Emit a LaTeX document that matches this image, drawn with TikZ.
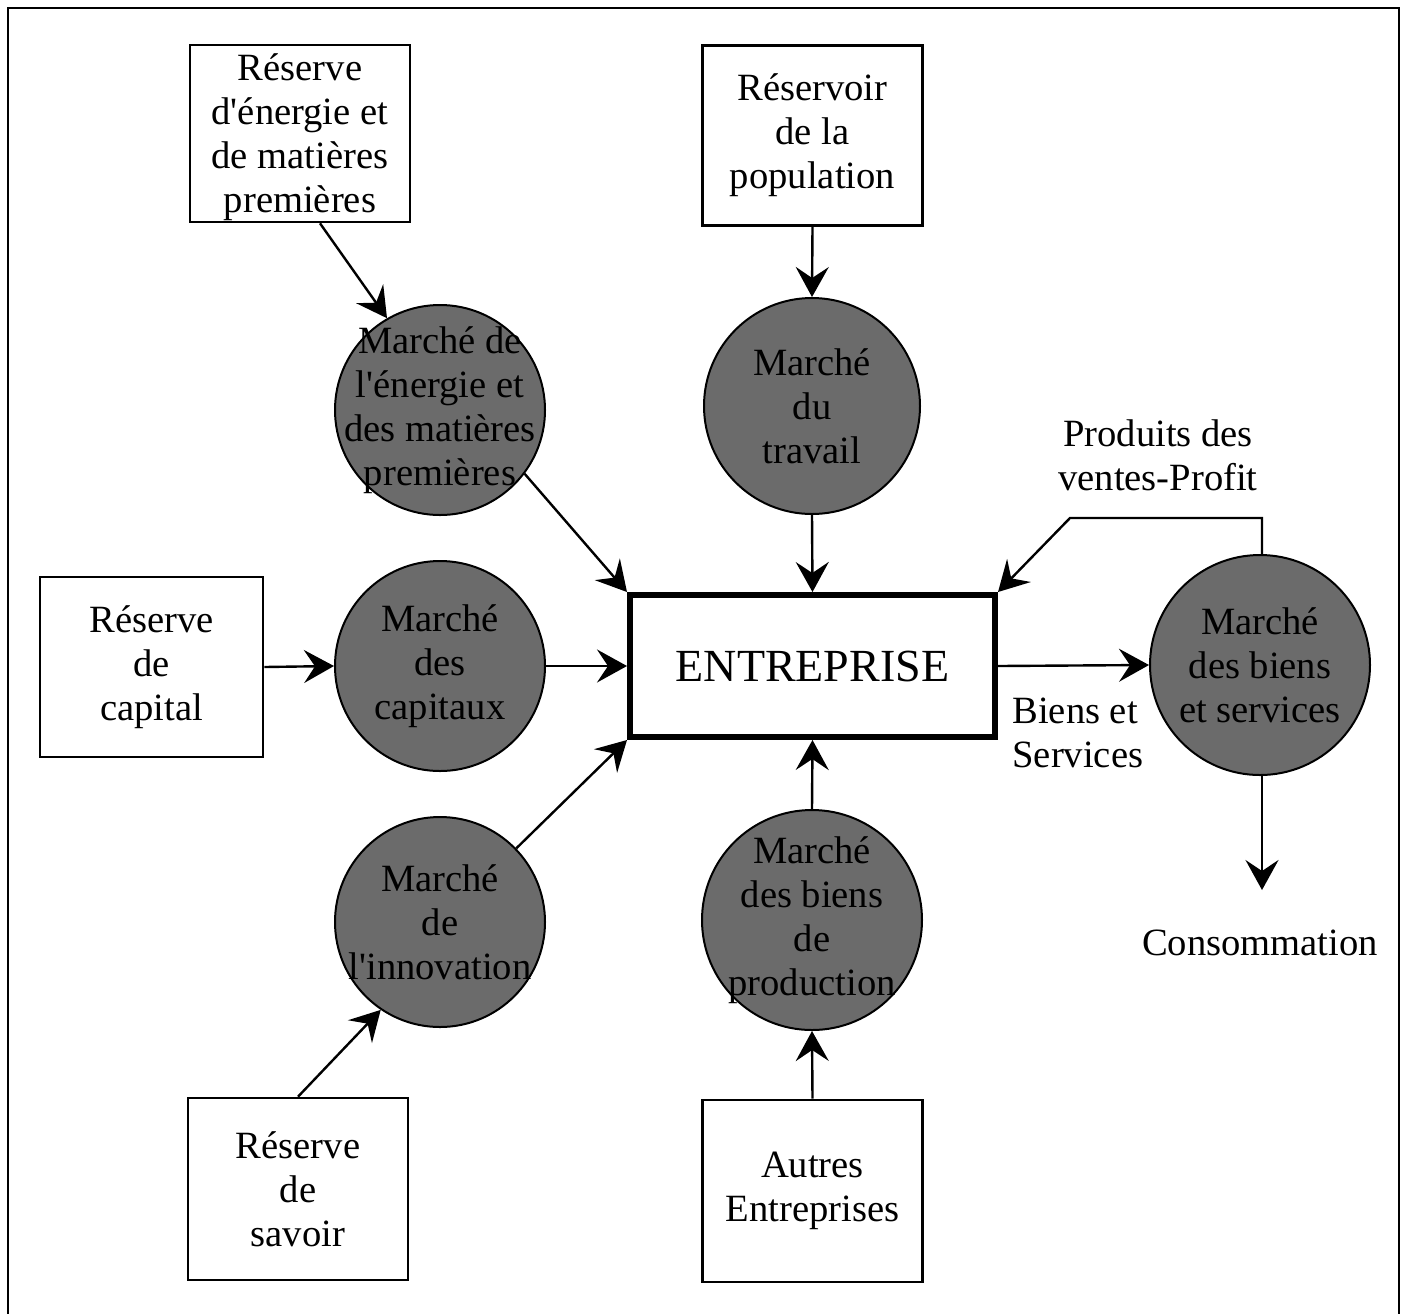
\documentclass[tikz,border=0pt]{standalone}
\usepackage{fontspec}
\setmainfont{Liberation Serif}[Ligatures=TeXOff]
\usetikzlibrary{arrows.meta}
\begin{document}
\begin{tikzpicture}[x=0.5pt,y=-0.5pt,
  txt/.style={font=\fontsize{19.3}{22}\selectfont, align=center, inner sep=0pt},
  resbox/.style={txt, draw, line width=1.3pt, minimum width=110pt, minimum height=90pt},
  mkt/.style={circle, draw, line width=1pt, fill=black!58, inner sep=0pt},
  arr/.style={line width=1.2pt, -{Stealth[length=15pt,width=16.5pt,inset=5.5pt]}},
]
\useasboundingbox (0,0) rectangle (1408,1313);
\draw[line width=1.4pt] (8,1340) -- (8,8) -- (1399,8) -- (1399,1340);

% reserve boxes
\node[resbox, minimum height=88.5pt, text depth=-5pt] (r1) at (300,133.5) {Réserve\\d'énergie et\\de matières\\premières};
\node[resbox] (r2) at (812.5,135.5) {Réservoir\\de la\\population};
\node[resbox, minimum width=111.5pt] (r3) at (151.5,667) {Réserve\\de\\capital};
\node[resbox, minimum height=91pt] (r4) at (298,1189) {Réserve\\de\\savoir};
\node[resbox, minimum height=91pt] (r5) at (812.5,1191) {Autres\\Entreprises};

% markets
\node[mkt, minimum size=105pt] (c1) at (440,410) {};
\node[txt] (t1) at (c1) {Marché de\\l'énergie et\\des matières\\premières};
\node[mkt, minimum size=108pt] (c2) at (812,406) {};
\node[txt] (t2) at (c2) {Marché\\du\\travail};
\node[mkt, minimum size=105pt] (c3) at (440,666) {};
\node[txt] (t3) at (c3) {Marché\\des\\capitaux};
\node[mkt, minimum size=105pt] (c4) at (440,922) {};
\node[txt] (t4) at (c4) {Marché\\de\\l'innovation};
\node[mkt, minimum size=110pt] (c5) at (812,920) {};
\node[txt] (t5) at (c5) {Marché\\des biens\\de\\production};
\node[mkt, minimum size=110pt] (c6) at (1260,665) {};
\node[txt] (t6) at (c6) {Marché\\des biens\\et services};

% enterprise
\node[draw, line width=3pt, minimum width=182.5pt, minimum height=71pt,
      font=\fontsize{23}{27}\selectfont] (E) at (812.5,666) {ENTREPRISE};

% labels
\node[txt] (lp) at (1158,455) {Produits des\\ventes-Profit};
\node[txt, align=left, anchor=west] (lb) at (1012,733) {Biens et\\Services};
\node[txt] (lc) at (1260,943) {Consommation};
\coordinate (ce) at (1262,890);
\coordinate (k2) at (1070,518);

% connectors
\draw[arr] ([xshift=10pt]r1.south) -- (c1.120);
\draw[arr] (c1.-37) -- (E.north west);
\draw[arr] (r2.south) -- (c2.north);
\draw[arr] (c2.south) -- (E.north);
\draw[arr] (r3.east) -- (c3.west);
\draw[arr] (c3.east) -- (E.west);
\draw[arr] (c4.44) -- (E.south west);
\draw[arr] (r4.north) -- (c4.-124);
\draw[arr] (r5.north) -- (c5.south);
\draw[arr] (c5.north) -- (E.south);
\draw[arr] (E.east) -- (c6.west);
\draw[arr] ([xshift=1pt]c6.north) |- (k2) -- (E.north east);
\draw[arr] ([xshift=1pt]c6.south) -- (ce);
\end{tikzpicture}
\end{document}
